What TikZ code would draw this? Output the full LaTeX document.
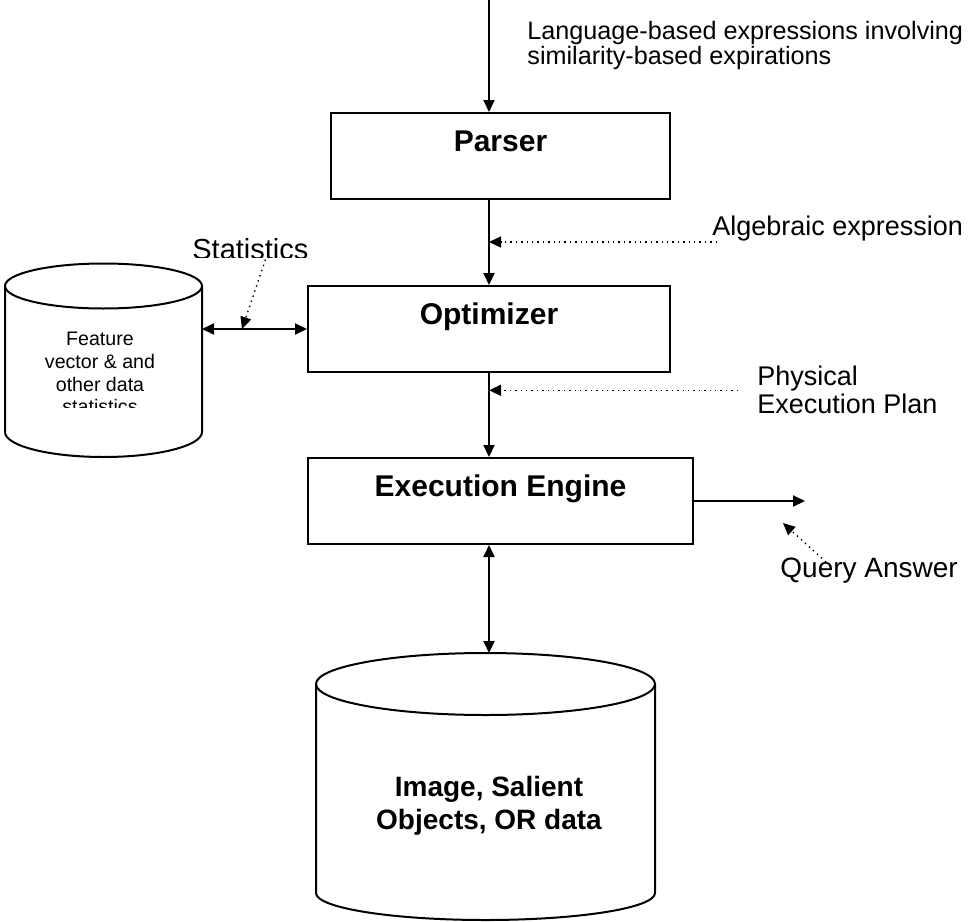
\documentclass[tikz,border=0pt]{standalone}
\usepackage{fontspec}
\setmainfont{Liberation Sans}
\usetikzlibrary{arrows.meta}

\begin{document}
\begin{tikzpicture}[
    x=0.5pt, y=-0.5pt,
    >={Triangle[length=6pt, width=5.5pt]},
    every node/.style={font=\fontsize{13.5}{14}\selectfont, inner sep=0pt},
    stage/.style={rectangle, draw=black, line width=1pt, minimum height=43pt, text height=11pt, text depth=16pt, font=\fontsize{15}{17}\selectfont\bfseries},
    flow/.style={->, line width=1pt},
    hint/.style={->, dotted, line width=0.7pt},
    store/.style={line width=1pt}
]
\useasboundingbox (0,0) rectangle (969,921);
\fill[white] (0,0) rectangle (969,921);

\node[stage, minimum width=169.5pt] (parser) at (500.5,156) {Parser};
\node[stage, minimum width=181pt] (optimizer) at (489,329) {Optimizer};
\node[stage, minimum width=192.5pt] (engine) at (500.5,501) {Execution Engine};

\draw[store] (5,286) -- (5,432) arc[start angle=180, end angle=0, x radius=98.5, y radius=25] -- (202,286);
\draw[store] (103.5,286) ellipse [x radius=98.5, y radius=22.5];
\begin{scope}
\clip (0,0) rectangle (969,407);
\node[align=center, font=\fontsize{9.8}{11.35}\selectfont] (fvtext) at (100,373) {Feature\\vector \& and\\other data\\statistics};
\end{scope}

\draw[store] (316,684) -- (316,893) arc[start angle=180, end angle=0, x radius=169.5, y radius=27] -- (655,684);
\draw[store] (485.5,684) ellipse [x radius=169.5, y radius=31];
\node[align=center, font=\fontsize{14}{16.5}\selectfont\bfseries] (imgdb) at (489,806) {Image, Salient\\Objects, OR data};

\node[anchor=north west, align=left, font=\fontsize{12.6}{12.5}\selectfont] (inlabel) at (527,21) {Language-based expressions involving\\similarity-based expirations};
\node[anchor=base west] (alglabel) at (712,235) {Algebraic expression};
\node[anchor=north west, align=left] (planlabel) at (757,366) {Physical\\Execution Plan};
\node[anchor=base west, font=\fontsize{14}{15}\selectfont] (qalabel) at (780,577) {Query Answer};
\begin{scope}
\clip (0,0) rectangle (969,257);
\node[anchor=base west, font=\fontsize{14.5}{16}\selectfont] (statlabel) at (192,259) {Statistics};
\end{scope}

\coordinate (qin) at (489,0);
\coordinate (algtail) at (717,242);
\coordinate (fvport) at (202,329);
\coordinate (statpt) at (242,329);
\coordinate (qout) at (805,501);
\coordinate (qatip) at (783,523);
\coordinate (dbtop) at (489,653);

\draw[flow] (qin) -- (qin |- parser.north);
\draw[flow] (optimizer.north |- parser.south) -- (optimizer.north);
\draw[flow] (optimizer.south) -- (optimizer.south |- engine.north);
\draw[flow] (engine.east) -- (qout);
\draw[flow, <->] (fvport) -- (optimizer.west);
\draw[flow, <->] (engine.south -| dbtop) -- (dbtop);

\draw[hint] (algtail) -- (algtail -| optimizer.north);
\draw[hint] ([xshift=-9.5pt]planlabel.west) -- (planlabel.west -| optimizer.south);
\draw[hint] ([xshift=7.5pt]statlabel.south) -- (statpt);
\draw[hint] ([xshift=23pt, yshift=-2.5pt]qalabel.north west) -- (qatip);

\end{tikzpicture}
\end{document}
